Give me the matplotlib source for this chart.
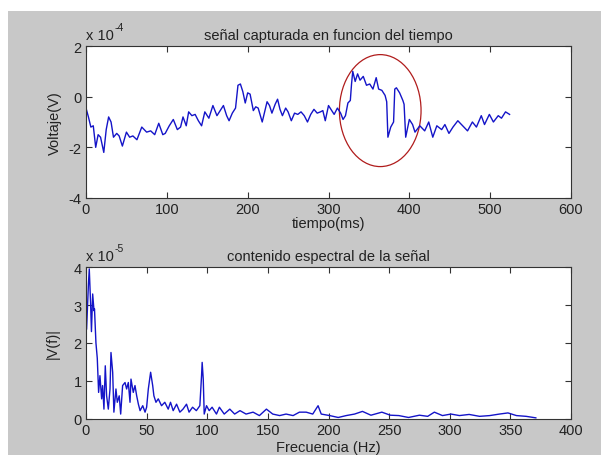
import matplotlib.pyplot as plt
from matplotlib.patches import Ellipse, Rectangle

plt.rcParams['font.family'] = ['Liberation Sans', 'DejaVu Sans']
plt.rcParams['axes.unicode_minus'] = False

# senal en el tiempo (ms, x 1e-4 V)
t_ms = [0, 3, 6, 9, 12, 15, 18, 22, 25, 28, 31, 34, 38, 41, 45, 50, 54, 58, 63, 69,
        75, 80, 85, 90, 95, 98, 103, 108, 113, 117, 120, 124, 127, 131, 135, 139, 143,
        147, 152, 157, 162, 166, 170, 174, 177, 181, 185, 188, 191, 194, 197, 200, 203,
        207, 210, 213, 218, 221, 224, 227, 230, 234, 237, 240, 243, 247, 250, 254, 258,
        262, 266, 270, 274, 278, 282, 286, 290, 293, 296, 300, 304, 307, 311, 315, 318,
        321, 324, 327, 328.5, 330, 333, 336, 339, 343, 347, 351, 355, 359, 362, 366, 370,
        372, 373.5, 377, 380.5, 382, 384, 388, 392, 393.5, 395.5, 400, 404, 407, 413, 419,
        424, 429, 434, 440, 444, 449, 454, 460, 466, 472, 478, 483, 489, 493, 499, 504,
        510, 514, 519, 524]
voltaje = [-0.45, -0.8, -1.2, -1.15, -2.0, -1.5, -1.6, -2.2, -1.3, -0.8, -1.0, -1.6, -1.45,
           -1.55, -1.95, -1.4, -1.6, -1.55, -1.7, -1.2, -1.4, -1.35, -1.5, -1.05, -1.5, -1.45,
           -1.15, -0.9, -1.3, -1.2, -0.8, -1.15, -0.6, -0.75, -0.7, -0.95, -1.15, -0.6, -0.85,
           -0.35, -0.75, -0.55, -0.35, -0.75, -0.95, -0.65, -0.45, 0.45, 0.5, 0.2, -0.25, 0.15,
           0.1, -0.55, -0.4, -0.45, -1.0, -0.6, -0.2, -0.35, -0.65, -0.3, -0.1, -0.5, -0.75,
           -0.45, -0.6, -0.95, -0.65, -0.7, -0.6, -0.75, -1.0, -0.7, -0.5, -0.65, -0.6, -0.55,
           -0.95, -0.35, -0.55, -0.7, -0.45, -0.65, -0.9, -0.75, -0.25, -0.15, 0.5, 1.0, 0.6,
           0.9, 0.65, 0.8, 0.45, 0.5, 0.3, 0.75, 0.3, 0.25, 0.05, -0.2, -1.6, -1.2, -1.0, 0.3,
           0.35, 0.15, -0.15, -0.3, -1.6, -0.9, -1.1, -1.4, -1.15, -1.35, -1.0, -1.6, -1.15,
           -1.3, -1.1, -1.45, -1.2, -0.95, -1.15, -1.35, -1.0, -1.2, -0.75, -1.1, -0.7, -1.0,
           -0.75, -0.85, -0.6, -0.7]

# espectro (Hz, x 1e-5)
frec = [0.5, 2, 2.7, 3.8, 4.5, 5.5, 6.6, 7, 8.2, 9.3, 10.4, 11.5, 12.9, 13.7, 14.8, 15.9,
        17, 18.4, 19.8, 20.6, 22, 23, 24.7, 25.8, 27.4, 28.6, 30.2, 32.2, 33.5, 34.9, 36.3,
        37.1, 39, 40.4, 41.8, 43.2, 44.6, 46.8, 48.7, 50, 51.4, 53.3, 55, 56, 57.7, 59.6,
        62.3, 65, 67.8, 69.7, 71.9, 74.7, 77.4, 80, 82.9, 85, 87.9, 91, 93.9, 95.3, 95.8,
        96.7, 97.5, 99.4, 101.6, 104, 107.6, 110, 114, 118.6, 122.6, 127, 132, 137.8, 143,
        148.8, 154, 159.7, 165, 170.8, 176, 181.6, 187, 191.4, 194, 201, 208, 214.6, 221.5,
        228, 235, 244, 251, 258, 266, 275, 281.8, 287.3, 294, 301, 308, 316, 324.6, 333,
        341, 348, 355, 363, 371]
amplitud = [2.37, 3.55, 3.95, 3.03, 2.3, 3.29, 2.85, 2.9, 2.0, 1.6, 0.7, 1.14, 0.53, 0.88,
            0.26, 1.4, 0.61, 0.26, 0.79, 1.75, 1.23, 0.18, 0.79, 0.44, 0.61, 0.13, 0.88, 0.96,
            0.79, 0.96, 0.44, 1.05, 0.7, 0.88, 0.61, 0.39, 0.22, 0.35, 0.18, 0.31, 0.79, 1.23,
            0.88, 0.61, 0.44, 0.53, 0.35, 0.44, 0.26, 0.44, 0.22, 0.39, 0.18, 0.26, 0.39, 0.18,
            0.31, 0.22, 0.35, 1.14, 1.49, 1.05, 0.13, 0.35, 0.22, 0.31, 0.13, 0.31, 0.13, 0.26,
            0.13, 0.22, 0.13, 0.18, 0.09, 0.26, 0.13, 0.09, 0.13, 0.09, 0.18, 0.18, 0.13, 0.35,
            0.13, 0.09, 0.04, 0.09, 0.13, 0.2, 0.1, 0.18, 0.1, 0.09, 0.04, 0.1, 0.07, 0.18,
            0.09, 0.13, 0.09, 0.12, 0.07, 0.09, 0.13, 0.16, 0.09, 0.07, 0.03]

fig = plt.figure(figsize=(6.01, 4.56), dpi=100)
fig.patch.set_facecolor('white')
fig.patches.append(Rectangle((8 / 601, 0), 1, 1 - 12 / 456, transform=fig.transFigure,
                             facecolor='#c8c8c8', edgecolor='none', zorder=-10))

txt = '#222222'
linea = '#1414c8'
fs = 10.5


def estilo(ax):
    ax.set_facecolor('white')
    ax.tick_params(direction='in', top=True, right=True, length=4, labelsize=10.5,
                   colors='#333333', labelcolor=txt, pad=3)
    for s in ax.spines.values():
        s.set_color('#333333')
        s.set_linewidth(0.8)


def escala(ax, exp):
    # "x 10" con el exponente como texto aparte (guion normal, como en MATLAB)
    base = ax.text(0.0, 1.025, 'x 10', transform=ax.transAxes, fontsize=fs, color=txt,
                   ha='left', va='bottom')
    ax.annotate(exp, xy=(1, 0.75), xycoords=base, xytext=(0.5, 0),
                textcoords='offset points', fontsize=7.5, color=txt, ha='left', va='bottom')


ax1 = fig.add_axes([86 / 601, 1 - 199 / 456, 485 / 601, 152 / 456])
ax1.plot(t_ms, voltaje, color=linea, lw=1)
ax1.add_patch(Ellipse((364, -0.55), 101, 4.42, fill=False, edgecolor='#b01c1c', lw=0.9))
ax1.set_xlim(0, 600)
ax1.set_ylim(-4, 2)
ax1.set_xticks(range(0, 601, 100))
ax1.set_yticks([-4, -2, 0, 2])
estilo(ax1)
ax1.set_title('señal capturada en funcion del tiempo', fontsize=fs, color=txt, pad=5)
ax1.set_xlabel('tiempo(ms)', fontsize=fs, color=txt, labelpad=0)
ax1.set_ylabel('Voltaje(V)', fontsize=fs, color=txt, labelpad=5)
escala(ax1, '-4')

ax2 = fig.add_axes([86 / 601, 1 - 420 / 456, 485 / 601, 152 / 456])
ax2.plot(frec, amplitud, color=linea, lw=1)
ax2.set_xlim(0, 400)
ax2.set_ylim(0, 4)
ax2.set_xticks(range(0, 401, 50))
ax2.set_yticks([0, 1, 2, 3, 4])
estilo(ax2)
ax2.set_title('contenido espectral de la señal', fontsize=fs, color=txt, pad=5)
ax2.set_xlabel('Frecuencia (Hz)', fontsize=fs, color=txt, labelpad=2)
ax2.set_ylabel('|V(f)|', fontsize=fs, color=txt, labelpad=10)
escala(ax2, '-5')

fig.savefig('out.png', dpi=100, facecolor=fig.get_facecolor())
